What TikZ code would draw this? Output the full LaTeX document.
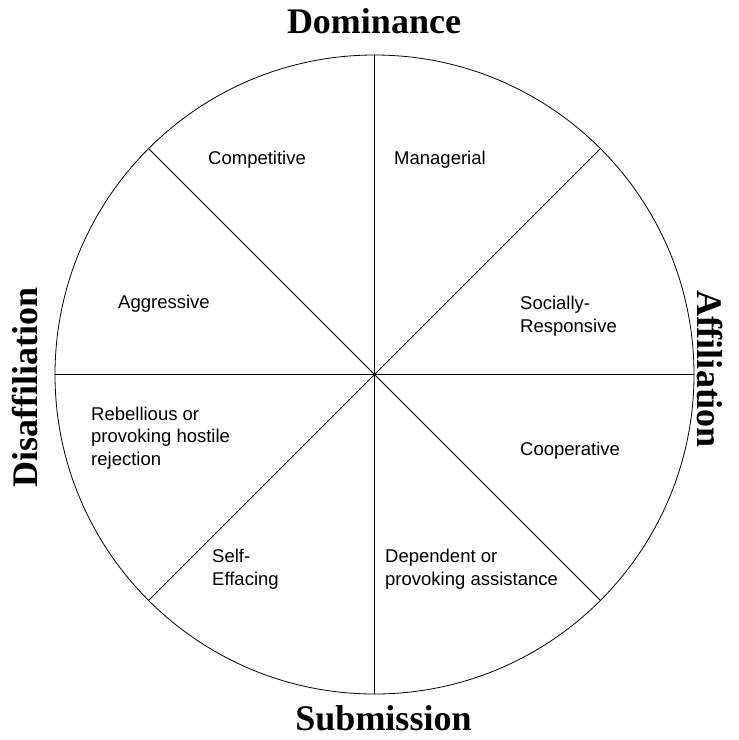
\documentclass[tikz,border=0pt]{standalone}
\usepackage{fontspec}
\setmainfont{Liberation Serif}
\setsansfont{Liberation Sans}
\usetikzlibrary{positioning}
\tikzset{
	axis/.style={font=\fontsize{36}{40}\selectfont\bfseries, inner sep=0pt, anchor=base},
	sector/.style={font=\sffamily\fontsize{18.5}{22.5}\selectfont, align=left, anchor=base west, inner sep=0pt},
	rim/.style={line width=0.8pt},
}

\begin{document}
\begin{tikzpicture}[x=1pt, y=-1pt]
	\useasboundingbox (0,0) rectangle (739,740);
	\coordinate (C) at (374.5,374.5);
	\draw[rim] (C) circle (319.5);
	\foreach \a in {0,45,90,135}{
		\path (C) ++(\a:319.5) coordinate (A\a);
		\path (C) ++(\a+180:319.5) coordinate (B\a);
		\draw[rim] (A\a) -- (B\a);
	}
	
	\node[axis] (DOM) at (374,33) {Dominance};
	\node[axis] (SUB) at (383.5,730) {Submission};
	\node[axis, rotate=90] (DIS) at (37,387) {Disaffiliation};
	\node[axis, rotate=-90] (AFF) at (697,369) {Affiliation};
	
	% multi-line labels sit on the baseline of their last line
	\node[sector] (COMP) at (208,164) {Competitive};
	\node[sector] (MAN) at (394,164) {Managerial};
	\node[sector] (AGG) at (118,308) {Aggressive};
	\node[sector] (SOC) at (520,332) {Socially-\\Responsive};
	\node[sector] (REB) at (91,465) {Rebellious or\\provoking hostile\\rejection};
	\node[sector] (COOP) at (520,455) {Cooperative};
	\node[sector] (SELF) at (212,585) {Self-\\Effacing};
	\node[sector] (DEP) at (385,585) {Dependent or\\provoking assistance};
\end{tikzpicture}
\end{document}
